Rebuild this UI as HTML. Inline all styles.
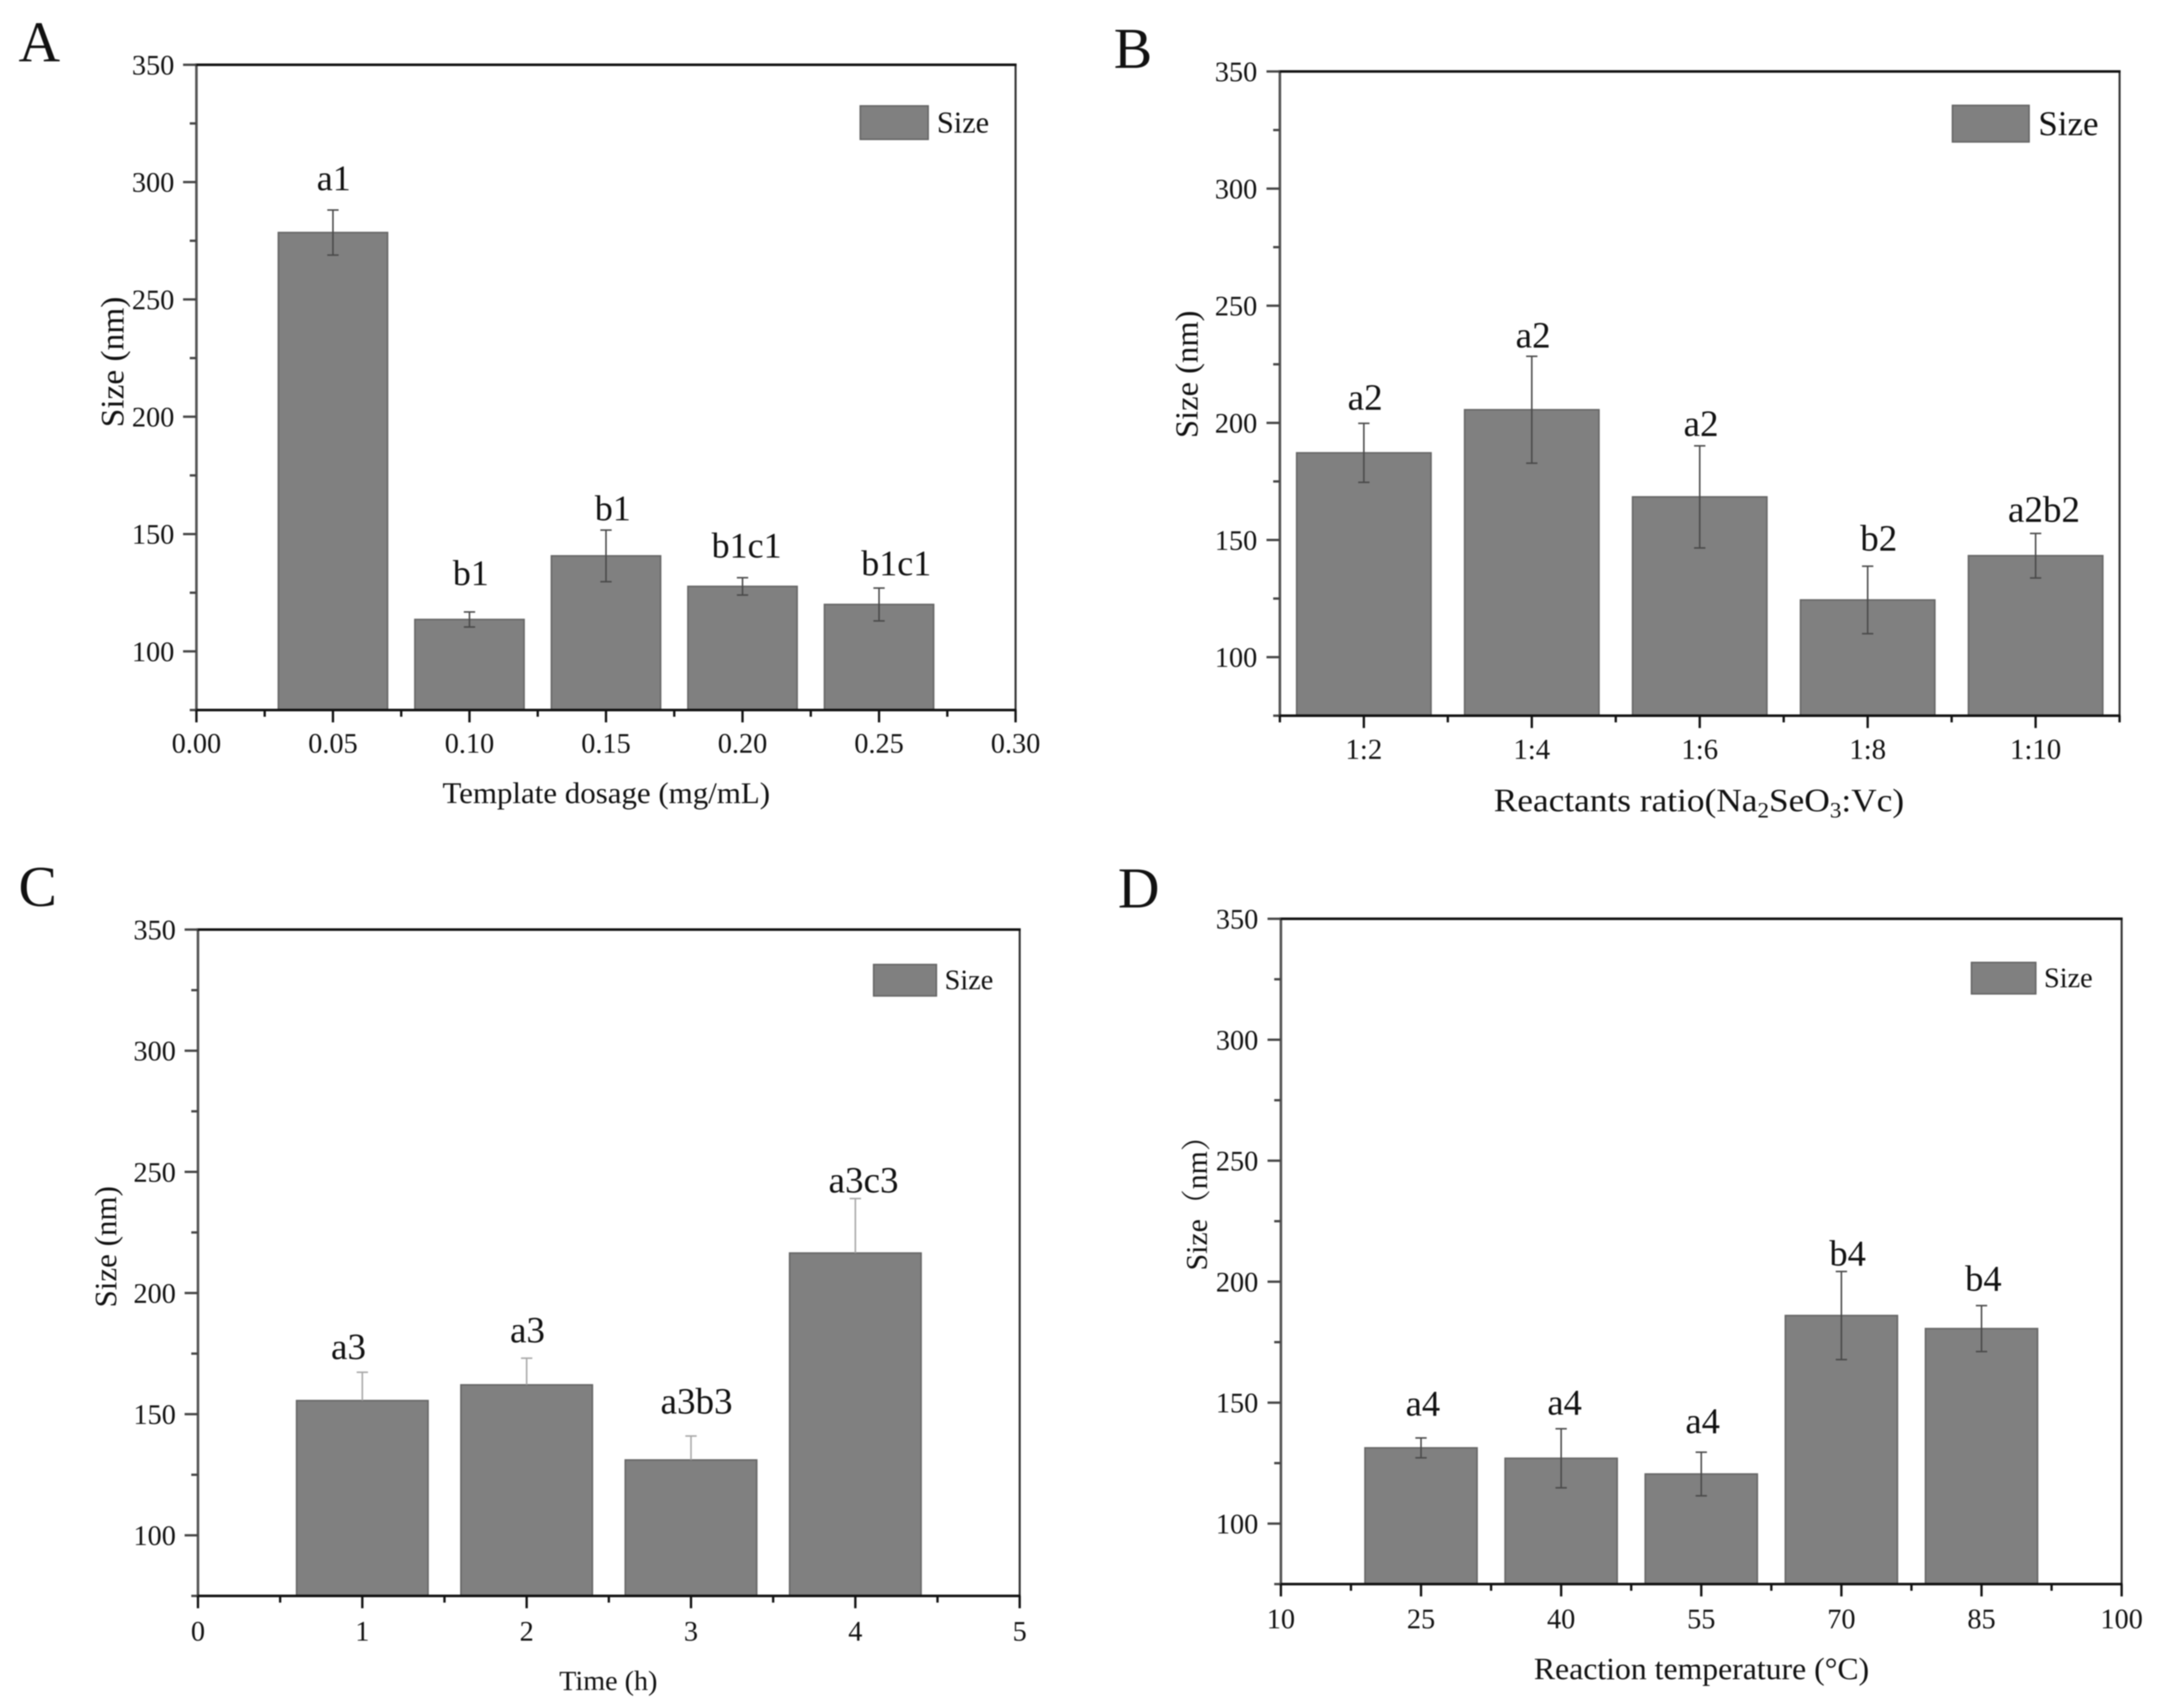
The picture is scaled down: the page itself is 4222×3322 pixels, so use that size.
<!DOCTYPE html>
<html lang="en">
<head>
<meta charset="utf-8">
<title>Size bar charts</title>
<style>
html,body{margin:0;padding:0;background:#fff;}
svg{display:block;filter:blur(1px);}
text{font-family:"Liberation Serif","Noto Serif CJK SC",serif;fill:#111;}
</style>
</head>
<body>
<svg id="figure" xmlns="http://www.w3.org/2000/svg" width="4222" height="3322" viewBox="0 0 4222 3322">
  <rect width="4222" height="3322" fill="#fff"/>

  <g id="panel-a">
    <text x="36" y="119" font-size="112">A</text>
    <text x="1179" y="1562" font-size="58" text-anchor="middle" textLength="637" lengthAdjust="spacingAndGlyphs">Template dosage (mg/mL)</text>
    <text transform="translate(240 704) rotate(-90)" font-size="64" text-anchor="middle" textLength="254" lengthAdjust="spacingAndGlyphs">Size (nm)</text>
    <rect x="1673" y="206" width="132" height="65" fill="#808080" stroke="#666" stroke-width="3"/>
    <text x="1822" y="258" font-size="59">Size</text>
  </g>

  <g id="panel-b">
    <text x="2166" y="132" font-size="112">B</text>
    <text x="3304" y="1578" font-size="64" text-anchor="middle" textLength="798" lengthAdjust="spacingAndGlyphs">Reactants ratio(Na<tspan font-size="42" dy="12">2</tspan><tspan dy="-12">SeO</tspan><tspan font-size="42" dy="12">3</tspan><tspan dy="-12">:Vc)</tspan></text>
    <text transform="translate(2329 728) rotate(-90)" font-size="62" text-anchor="middle" textLength="248" lengthAdjust="spacingAndGlyphs">Size (nm)</text>
    <rect x="3797" y="205" width="149" height="71" fill="#808080" stroke="#666" stroke-width="3"/>
    <text x="3964" y="263" font-size="68">Size</text>
  </g>

  <g id="panel-c">
    <text x="36" y="1762" font-size="112">C</text>
    <text x="1183" y="3287" font-size="54" text-anchor="middle" textLength="191" lengthAdjust="spacingAndGlyphs">Time (h)</text>
    <text transform="translate(226 2425) rotate(-90)" font-size="60" text-anchor="middle" textLength="236" lengthAdjust="spacingAndGlyphs">Size (nm)</text>
    <rect x="1699" y="1876" width="122" height="61" fill="#808080" stroke="#666" stroke-width="3"/>
    <text x="1837" y="1924" font-size="55">Size</text>
  </g>

  <g id="panel-d">
    <text x="2174" y="1765" font-size="112">D</text>
    <text x="3309" y="3266" font-size="60" text-anchor="middle" textLength="652" lengthAdjust="spacingAndGlyphs">Reaction temperature (°C)</text>
    <text transform="translate(2347 2471) rotate(-90)" font-size="58">Size（nm）</text>
    <rect x="3834" y="1872" width="125" height="61" fill="#808080" stroke="#666" stroke-width="3"/>
    <text x="3975" y="1920" font-size="55">Size</text>
  </g>
</svg>

<script>
// Shared y axis
const yTickValues = [100, 150, 200, 250, 300, 350];
const yTickLabels = ["100", "150", "200", "250", "300", "350"];
const yMinorValues = [75, 125, 175, 225, 275, 325];

// Panel A
const aBarX = [0.05, 0.10, 0.15, 0.20, 0.25];
const aValues = [278.5, 113.6, 140.7, 127.7, 120];
const aErrors = [9.6, 3.2, 11, 3.7, 7];
const aLetters = ["a1", "b1", "b1", "b1c1", "b1c1"];
const aLetterGap = [8.4, 11.4, 4.2, 8.6, 5.4];
const aLetterShift = [0.0003, 0.0005, 0.0025, 0.0015, 0.0063];
const aXTicks = [0, 0.05, 0.10, 0.15, 0.20, 0.25, 0.30];
const aXTickLabels = ["0.00", "0.05", "0.10", "0.15", "0.20", "0.25", "0.30"];
const aXMinor = [0.025, 0.075, 0.125, 0.175, 0.225, 0.275];

// Panel B
const bBarX = [1, 2, 3, 4, 5];
const bValues = [187.2, 205.6, 168.4, 124.4, 143.3];
const bErrors = [12.6, 22.8, 21.8, 14.4, 9.5];
const bLetters = ["a2", "a2", "a2", "b2", "a2b2"];
const bLetterGap = [5.8, 3.7, 4.2, 6.7, 4.9];
const bLetterShift = [0.008, 0.008, 0.008, 0.066, 0.05];
const bXTicks = [1, 2, 3, 4, 5];
const bXTickLabels = ["1:2", "1:4", "1:6", "1:8", "1:10"];
const bXMinor = [0.5, 1.5, 2.5, 3.5, 4.5, 5.5];

// Panel C
const cBarX = [1, 2, 3, 4];
const cValues = [155.6, 162.1, 131.1, 216.5];
const cErrors = [11.7, 11, 9.9, 22.5];
const cLetters = ["a3", "a3", "a3b3", "a3c3"];
const cLetterGap = [5.4, 6.5, 9.2, 2.5];
const cLetterShift = [-0.084, 0.005, 0.034, 0.05];
const cXTicks = [0, 1, 2, 3, 4, 5];
const cXTickLabels = ["0", "1", "2", "3", "4", "5"];
const cXMinor = [0.5, 1.5, 2.5, 3.5, 4.5];

// Panel D
const dBarX = [25, 40, 55, 70, 85];
const dValues = [131.3, 127, 120.5, 186, 180.6];
const dErrors = [4.1, 12.2, 9, 18.2, 9.5];
const dLetters = ["a4", "a4", "a4", "b4", "b4"];
const dLetterGap = [9.2, 5.8, 7.9, 2.5, 6.1];
const dLetterShift = [0.2, 0.37, 0.15, 0.67, 0.2];
const dXTicks = [10, 25, 40, 55, 70, 85, 100];
const dXTickLabels = ["10", "25", "40", "55", "70", "85", "100"];
const dXMinor = [17.5, 32.5, 47.5, 62.5, 77.5, 92.5];

const SVGNS = "http://www.w3.org/2000/svg";
const Y_MIN = 75;
const Y_MAX = 350;

function svgEl(parent, tag, attrs, content) {
  const el = document.createElementNS(SVGNS, tag);
  for (const k in attrs) el.setAttribute(k, attrs[k]);
  if (content !== undefined) el.textContent = content;
  parent.appendChild(el);
  return el;
}

function drawPanel(p) {
  const root = document.getElementById("panel-" + p.id);
  const sx = v => p.left + (v - p.xMin) / (p.xMax - p.xMin) * (p.right - p.left);
  const sy = v => p.bottom - (v - Y_MIN) / (Y_MAX - Y_MIN) * (p.bottom - p.top);

  // bars and error bars
  p.barX.forEach((xv, i) => {
    const x0 = sx(xv - p.barWidth / 2);
    const x1 = sx(xv + p.barWidth / 2);
    const cx = sx(xv);
    const top = sy(p.values[i]);
    const hi = sy(p.values[i] + p.errors[i]);
    const lo = sy(p.values[i] - p.errors[i]);

    const bar = svgEl(root, "rect", { x: x0, y: top, width: x1 - x0, height: p.bottom - top, fill: "#808080", stroke: "#666", "stroke-width": 3 });
    
    

    const errGroup = svgEl(root, "g", { stroke: p.errColor, "stroke-width": 3, fill: "none" });
    
    
    svgEl(errGroup, "line", { x1: cx, x2: cx, y1: hi, y2: p.upperOnly ? top : lo });
    svgEl(errGroup, "line", { x1: cx - 11, x2: cx + 11, y1: hi, y2: hi });
    if (!p.upperOnly) svgEl(errGroup, "line", { x1: cx - 11, x2: cx + 11, y1: lo, y2: lo });

    const letter = svgEl(root, "text", {
      x: sx(xv + p.letterShift[i]),
      y: sy(p.values[i] + p.errors[i] + p.letterGap[i]),
      "font-size": p.letterSize,
      "text-anchor": "middle"
    }, p.letters[i]);
    
    
  });

  // frame
  const leftAxis = svgEl(root, "line", { x1: p.left, x2: p.left, y1: p.top, y2: p.bottom, stroke: "#555", "stroke-width": 5 });
  
  
  const rightAxis = svgEl(root, "line", { x1: p.right, x2: p.right, y1: p.top, y2: p.bottom, stroke: "#333", "stroke-width": 4 });
  
  
  const topAxis = svgEl(root, "line", { x1: p.left - 3, x2: p.right + 2, y1: p.top, y2: p.top, stroke: "#111", "stroke-width": 5 });
  
  
  const bottomAxis = svgEl(root, "line", { x1: p.left - 3, x2: p.right + 2, y1: p.bottom, y2: p.bottom, stroke: "#111", "stroke-width": 5 });
  
  

  // y ticks
  yTickValues.forEach((v, i) => {
    const y = sy(v);
    const tick = svgEl(root, "line", { x1: p.left - 26, x2: p.left, y1: y, y2: y, stroke: "#444", "stroke-width": 4.5 });
    
    
    const label = svgEl(root, "text", { x: p.yLabelRight, y: y + 19, "font-size": 55, "text-anchor": "end" }, yTickLabels[i]);
    
    
  });
  yMinorValues.forEach(v => {
    const y = sy(v);
    const tick = svgEl(root, "line", { x1: p.left - 13, x2: p.left, y1: y, y2: y, stroke: "#444", "stroke-width": 4.5 });
    
    
  });

  // x ticks
  p.xTicks.forEach((v, i) => {
    const x = sx(v);
    const tick = svgEl(root, "line", { x1: x, x2: x, y1: p.bottom, y2: p.bottom + 24, stroke: "#111", "stroke-width": 4.5 });
    
    
    const label = svgEl(root, "text", { x: x, y: p.xLabelY, "font-size": p.xLabelSize, "text-anchor": "middle" }, p.xTickLabels[i]);
    
    
  });
  p.xMinor.forEach((v, i) => {
    const x = sx(v);
    const tick = svgEl(root, "line", { x1: x, x2: x, y1: p.bottom, y2: p.bottom + 13, stroke: "#111", "stroke-width": 4.5 });
    
    
  });
}

drawPanel({
  id: "a", left: 382, right: 1975, top: 126, bottom: 1381, xMin: 0, xMax: 0.30, barWidth: 0.04,
  barX: aBarX, values: aValues, errors: aErrors, letters: aLetters, letterGap: aLetterGap, letterShift: aLetterShift,
  xTicks: aXTicks, xTickLabels: aXTickLabels, xMinor: aXMinor,
  errColor: "#4a4a4a", upperOnly: false, letterSize: 70, yLabelRight: 339, xLabelY: 1464, xLabelSize: 55
});
drawPanel({
  id: "b", left: 2489, right: 4122, top: 139, bottom: 1392, xMin: 0.5, xMax: 5.5, barWidth: 0.8,
  barX: bBarX, values: bValues, errors: bErrors, letters: bLetters, letterGap: bLetterGap, letterShift: bLetterShift,
  xTicks: bXTicks, xTickLabels: bXTickLabels, xMinor: bXMinor,
  errColor: "#4a4a4a", upperOnly: false, letterSize: 72, yLabelRight: 2445, xLabelY: 1476, xLabelSize: 56
});
drawPanel({
  id: "c", left: 385, right: 1983, top: 1808, bottom: 3104, xMin: 0, xMax: 5, barWidth: 0.8,
  barX: cBarX, values: cValues, errors: cErrors, letters: cLetters, letterGap: cLetterGap, letterShift: cLetterShift,
  xTicks: cXTicks, xTickLabels: cXTickLabels, xMinor: cXMinor,
  errColor: "#a8a8a8", upperOnly: true, letterSize: 72, yLabelRight: 342, xLabelY: 3191, xLabelSize: 55
});
drawPanel({
  id: "d", left: 2491, right: 4126, top: 1787, bottom: 3081, xMin: 10, xMax: 100, barWidth: 12,
  barX: dBarX, values: dValues, errors: dErrors, letters: dLetters, letterGap: dLetterGap, letterShift: dLetterShift,
  xTicks: dXTicks, xTickLabels: dXTickLabels, xMinor: dXMinor,
  errColor: "#4a4a4a", upperOnly: false, letterSize: 71, yLabelRight: 2447, xLabelY: 3167, xLabelSize: 55
});
</script>
</body>
</html>
